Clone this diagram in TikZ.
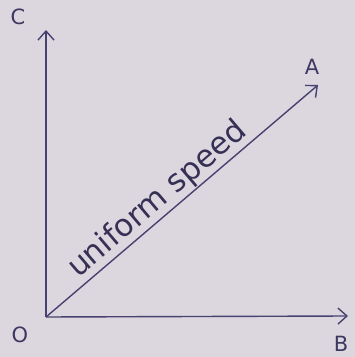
\documentclass[tikz,border=0pt]{standalone}
\usepackage{fontspec}
\setmainfont{DejaVu Sans}
\usepackage{xcolor}
\usetikzlibrary{positioning, arrows.meta}

\definecolor{paper}{RGB}{220,215,223}
\definecolor{ink}{RGB}{72,66,112}

\begin{document}
\begin{tikzpicture}[
    x=1pt, y=1pt,
    axis/.style={draw=ink, line width=1.4pt, -{Straight Barb[length=9pt, width=16pt, line width=1.4pt]}},
    letter/.style={text=ink!85!black, font=\fontsize{21}{21}\selectfont, inner sep=0pt},
    caption/.style={text=ink!75!black, font=\fontsize{31}{31}\selectfont, inner sep=1pt}
]
    % Paper
    \fill[paper] (0,0) rectangle (355,357);
    \useasboundingbox (0,0) rectangle (355,357);

    % Points
    \coordinate (O) at (46,40);
    \coordinate (C) at (46,327);
    \coordinate (B) at (348,41);
    \coordinate (A) at (318,272);

    % Labels
    \node[letter] (lblO) at (20,22) {O};
    \node[letter] (lblC) at (18,340) {C};
    \node[letter] (lblB) at (341,13) {B};
    \node[letter] (lblA) at (312,290) {A};

    % Axes and line
    \draw[axis] (O) -- (C);
    \draw[axis] (O) -- (B);
    \draw[axis] (O) -- (A) node[caption, pos=0.45, above, sloped] (speed) {uniform speed};
\end{tikzpicture}
\end{document}
